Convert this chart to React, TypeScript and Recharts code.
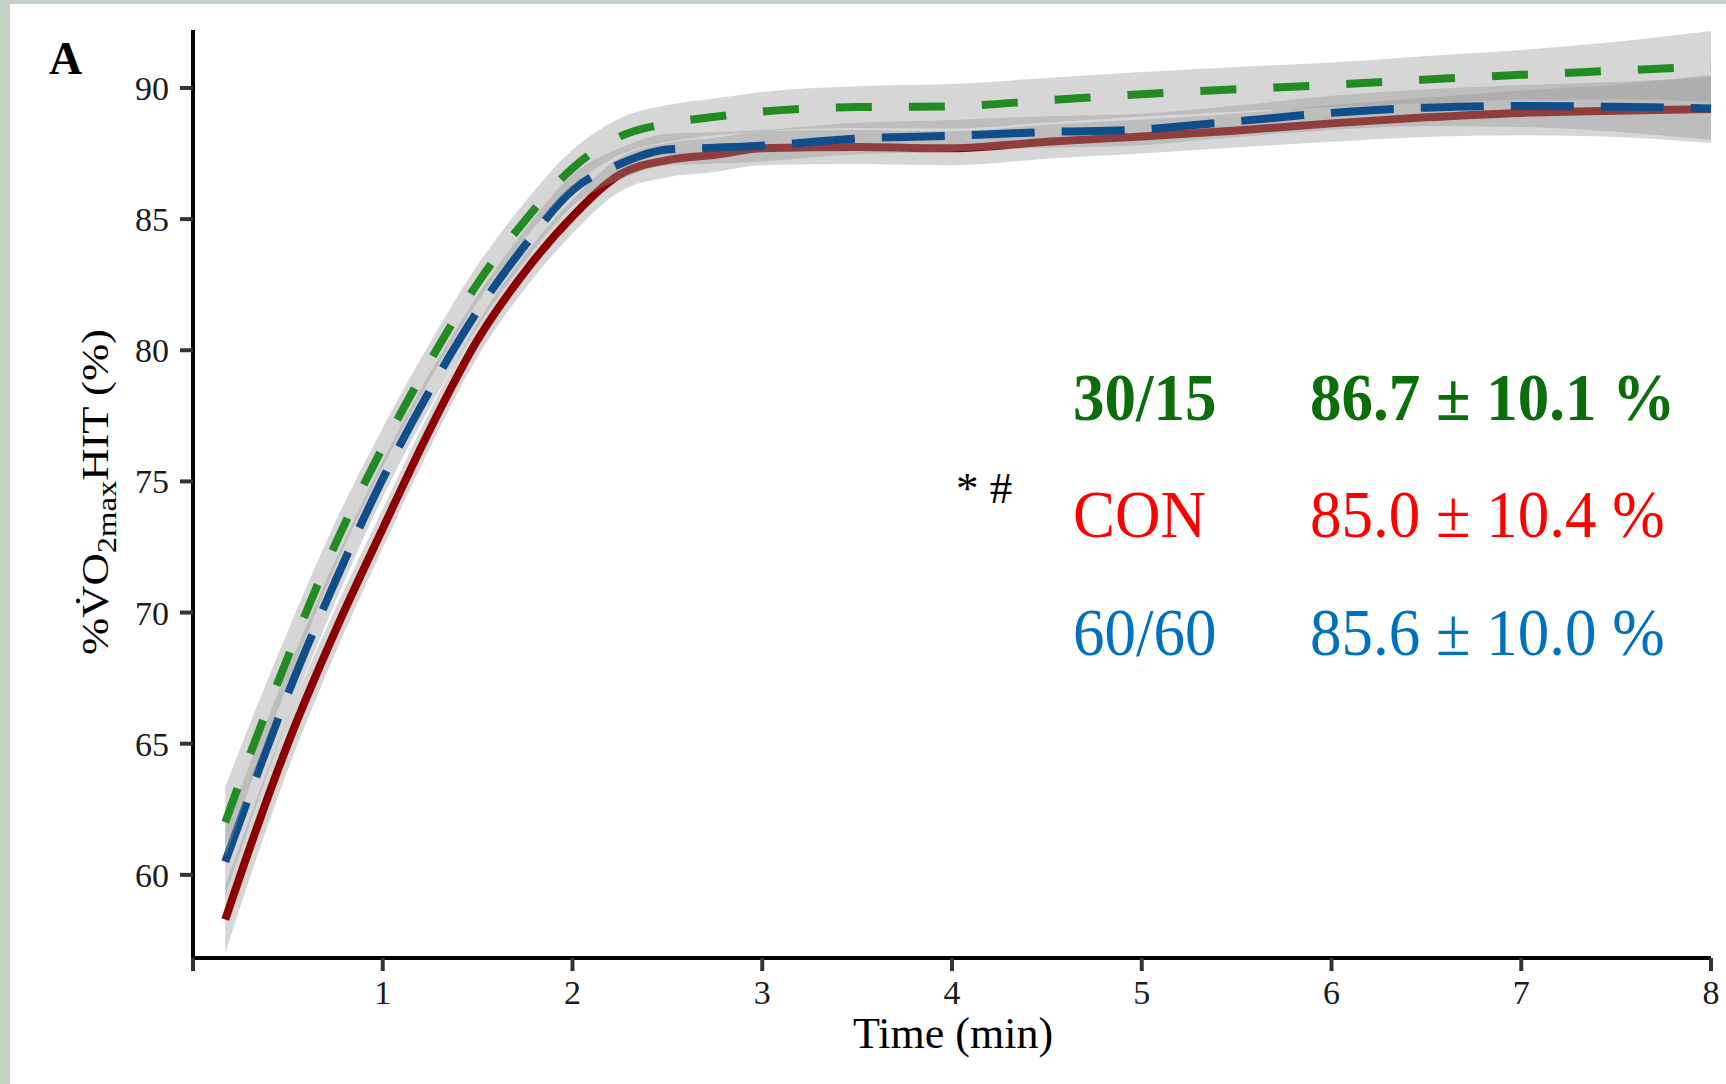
import { ComposedChart, Line, Area, XAxis, YAxis } from 'recharts';

// time (min) and smoothed %VO2max curves
const times = [0.17, 0.25, 0.5, 0.75, 1, 1.25, 1.5, 1.75, 2, 2.25, 2.5, 2.75, 3, 3.5, 4, 4.5, 5, 5.5, 6, 6.5, 7, 7.5, 8];

const con = [58.3, 60.0, 65.0, 69.3, 73.2, 77.0, 80.4, 83.0, 85.1, 86.7, 87.25, 87.45, 87.7, 87.75, 87.7, 87.95, 88.15, 88.38, 88.65, 88.88, 89.05, 89.13, 89.2];
const hit6060 = [60.5, 62.1, 66.9, 71.2, 75.1, 78.5, 81.5, 84.0, 86.1, 87.1, 87.65, 87.72, 87.8, 88.07, 88.18, 88.32, 88.42, 88.73, 89.05, 89.25, 89.31, 89.28, 89.22];
const hit3015 = [62.0, 63.6, 68.3, 72.6, 76.3, 79.6, 82.55, 84.95, 86.94, 88.15, 88.65, 88.9, 89.1, 89.27, 89.3, 89.53, 89.76, 89.95, 90.12, 90.32, 90.5, 90.66, 90.82];

// half-width of the grey confidence ribbons
const conSe = [1.3, 1.2, 1.0, 0.85, 0.75, 0.7, 0.65, 0.65, 0.65, 0.65, 0.65, 0.65, 0.65, 0.65, 0.65, 0.65, 0.65, 0.65, 0.7, 0.75, 0.85, 1.0, 1.3];
const se6060 = [1.3, 1.2, 0.95, 0.8, 0.7, 0.65, 0.6, 0.6, 0.6, 0.6, 0.6, 0.6, 0.6, 0.6, 0.6, 0.6, 0.6, 0.6, 0.65, 0.7, 0.8, 0.95, 1.2];
const se3015 = [1.35, 1.25, 1.0, 0.85, 0.75, 0.7, 0.7, 0.7, 0.7, 0.7, 0.7, 0.7, 0.75, 0.8, 0.85, 0.85, 0.85, 0.85, 0.85, 0.9, 0.95, 1.1, 1.35];

const xTicks = [0, 1, 2, 3, 4, 5, 6, 7, 8];
const yTicks = [60, 65, 70, 75, 80, 85, 90];

const groupLabels = ['30/15', 'CON', '60/60'];
const groupMeans = [86.7, 85.0, 85.6];
const groupSds = [10.1, 10.4, 10.0];

const rows = times.map((t, i) => ({
  t,
  con: con[i],
  conBand: [con[i] - conSe[i], con[i] + conSe[i]],
  h6060: hit6060[i],
  h6060Band: [hit6060[i] - se6060[i], hit6060[i] + se6060[i]],
  h3015: hit3015[i],
  h3015Band: [hit3015[i] - se3015[i], hit3015[i] + se3015[i]],
}));

const serif = '"Liberation Serif", "Times New Roman", serif';
const textColors = ['#0B6E0B', '#FF0000', '#0070C0'];
const baselines = [420, 537, 655];

export default function App() {
  return (
    <div style={{ position: 'fixed', left: 0, top: 0, width: 1726, height: 1084, background: '#fff', overflow: 'hidden' }}>
      <div style={{ position: 'absolute', left: 0, top: 0, width: 10, height: 1084, background: '#C4D0C4' }} />
      <div style={{ position: 'absolute', left: 0, top: 0, width: 1726, height: 4, background: '#C4D0C4' }} />
      <div style={{ position: 'absolute', left: 0, top: 0 }}>
        <ComposedChart width={1726} height={1084} data={rows} margin={{ top: 30, right: 15, bottom: 66, left: 93 }}>
          <XAxis
            dataKey="t"
            type="number"
            domain={[0, 8]}
            ticks={xTicks}
            tickFormatter={(v) => (v === 0 ? '' : String(v))}
            height={60}
            tickSize={13}
            tickMargin={9}
            axisLine={{ stroke: '#000', strokeWidth: 4 }}
            tickLine={{ stroke: '#333', strokeWidth: 4 }}
            tick={{ fill: '#1a1a1a', fontSize: 34, fontFamily: serif }}
          />
          <YAxis
            type="number"
            domain={[56.83, 92.21]}
            ticks={yTicks}
            width={100}
            tickSize={13}
            tickMargin={11}
            axisLine={{ stroke: '#000', strokeWidth: 4 }}
            tickLine={{ stroke: '#333', strokeWidth: 4 }}
            tick={{ fill: '#1a1a1a', fontSize: 34, fontFamily: serif }}
          />
          <Area dataKey="conBand" type="monotone" stroke="none" fill="#999999" fillOpacity={0.4} isAnimationActive={false} zIndex={101} />
          <Line dataKey="con" type="monotone" stroke="#8B0000" strokeWidth={8} strokeLinecap="butt" dot={false} activeDot={false} isAnimationActive={false} zIndex={102} />
          <Area dataKey="h6060Band" type="monotone" stroke="none" fill="#999999" fillOpacity={0.4} isAnimationActive={false} zIndex={103} />
          <Line dataKey="h6060" type="monotone" stroke="#104E8B" strokeWidth={8} strokeDasharray="63 27" strokeLinecap="butt" dot={false} activeDot={false} isAnimationActive={false} zIndex={104} />
          <Area dataKey="h3015Band" type="monotone" stroke="none" fill="#999999" fillOpacity={0.4} isAnimationActive={false} zIndex={105} />
          <Line dataKey="h3015" type="monotone" stroke="#228B22" strokeWidth={8} strokeDasharray="36 37" strokeLinecap="butt" dot={false} activeDot={false} isAnimationActive={false} zIndex={106} />
        </ComposedChart>
      </div>
      <svg width={1726} height={1084} style={{ position: 'absolute', left: 0, top: 0, pointerEvents: 'none' }} fontFamily={serif}>
        <text x={49} y={74} fontSize={46} fontWeight="bold" fill="#000">A</text>
        <text
          transform="translate(108,492) rotate(-90)"
          textAnchor="middle"
          fontSize={37}
          fill="#000"
          textLength={326}
          lengthAdjust="spacingAndGlyphs"
        >
          %V̇O<tspan fontSize={27} dy={8}>2max</tspan><tspan dy={-8}>HIT (%)</tspan>
        </text>
        <text x={953} y={1048} textAnchor="middle" fontSize={44} fill="#000">Time (min)</text>
        <text x={956} y={503} fontSize={45} fill="#000">* #</text>
        {groupLabels.map((label, i) => (
          <g key={label}>
            <g transform={`translate(1073,${baselines[i]}) scale(1,1.08)`}>
              <text x={0} y={0} fontSize={63} fontWeight={i === 0 ? 'bold' : 'normal'} fill={textColors[i]}>{label}</text>
            </g>
            <g transform={`translate(1310,${baselines[i]}) scale(1,1.08)`}>
              <text x={0} y={0} fontSize={63} fontWeight={i === 0 ? 'bold' : 'normal'} fill={textColors[i]}>
                {`${groupMeans[i].toFixed(1)} ± ${groupSds[i].toFixed(1)} %`}
              </text>
            </g>
          </g>
        ))}
      </svg>
    </div>
  );
}
